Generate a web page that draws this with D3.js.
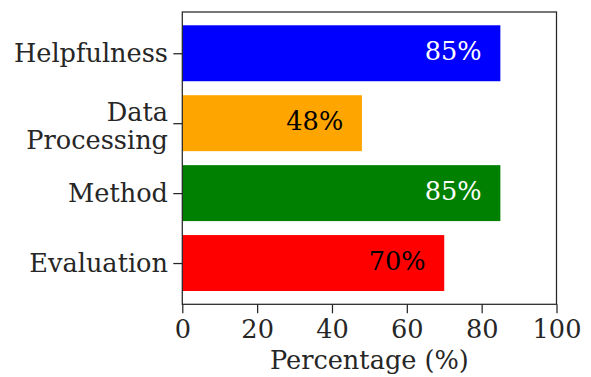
<!DOCTYPE html>
<html><head><meta charset="utf-8">
<script src="https://cdn.jsdelivr.net/npm/d3@7/dist/d3.min.js"></script>
<style>body{margin:0;background:#fff}svg{display:block}text{font-family:"DejaVu Serif",serif;fill:#262626}</style>
</head><body><svg id="c" width="591" height="377"></svg>
<script>
const categories = ["Helpfulness", "Data\nProcessing", "Method", "Evaluation"];
const values = [85, 48, 85, 70];
const colors = ["#0000ff", "#ffa500", "#008000", "#ff0000"];
const labelColors = ["#ffffff", "#000000", "#ffffff", "#000000"];
const xTicks = [0, 20, 40, 60, 80, 100];

const svg = d3.select("#c");
const L = 182.3, R = 556.5, T = 12, B = 304.3;
const fs = 25.6;
const x = d3.scaleLinear().domain([0, 100]).range([L, R]);
const y = d3.scaleLinear().domain([-0.59, 3.59]).range([T, B]);
const bh = 0.8;

svg.selectAll("rect.bar").data(values).join("rect").attr("class","bar")
  .attr("x", x(0)).attr("y", (d,i)=>y(i - bh/2))
  .attr("width", d=>x(d)-x(0)).attr("height", y(bh)-y(0))
  .attr("fill", (d,i)=>colors[i]);

svg.selectAll("text.val").data(values).join("text").attr("class","val")
  .attr("x", d=>x(d-5)).attr("y", (d,i)=>y(i)+7)
  .attr("text-anchor","end").style("font-size", fs+"px")
  .style("fill", (d,i)=>labelColors[i]).text(d=>d+"%");

// x axis
const xa = svg.append("g").attr("transform",`translate(0,${B})`)
  .call(d3.axisBottom(x).tickValues(xTicks).tickSize(9).tickPadding(6));
xa.select(".domain").remove();
xa.selectAll("line").attr("stroke","#262626").attr("stroke-width",1.25);
xa.selectAll("text").style("font-size",fs+"px").style("fill","#262626")
  .attr("font-family",null).attr("dy",null).attr("y",338-B);

// y axis
const ya = svg.append("g").attr("transform",`translate(${L},0)`)
  .call(d3.axisLeft(y).tickValues(d3.range(categories.length)).tickSize(9).tickFormat(""));
ya.select(".domain").remove();
ya.selectAll("line").attr("stroke","#262626").attr("stroke-width",1.25);
categories.forEach((c,i)=>{
  const lines = c.split("\n");
  const lh = 28.3;
  const base = lines.length === 1 ? y(i) + 8.5 : y(i) - 2.3;
  const t = svg.append("text").attr("text-anchor","end").style("font-size",fs+"px");
  lines.forEach((ln,k)=>t.append("tspan").attr("x", 168).attr("y", base + k*lh).text(ln));
});

svg.append("rect").attr("x",L).attr("y",T).attr("width",R-L).attr("height",B-T)
  .attr("fill","none").attr("stroke","#262626").attr("stroke-width",1.25);

svg.append("text").attr("x",(L+R)/2).attr("y",369).attr("text-anchor","middle")
  .style("font-size",fs+"px").text("Percentage (%)");
</script></body></html>
